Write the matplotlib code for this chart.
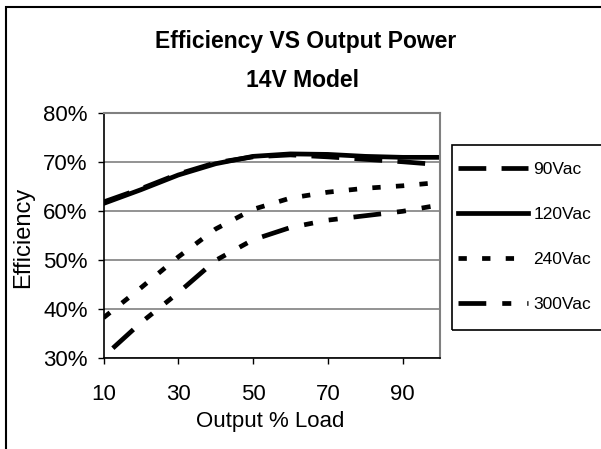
import matplotlib
matplotlib.use("Agg")
import matplotlib.pyplot as plt
from matplotlib.patches import Rectangle
from matplotlib.ticker import FuncFormatter

plt.rcParams['font.family'] = ['Liberation Sans', 'DejaVu Sans']
plt.rcParams['lines.scale_dashes'] = False

# Data (efficiency % vs output % load)
load_90 = [10, 20, 30, 40, 50, 60, 70, 80, 90, 100]
eff_90 = [61.8, 64.5, 67.5, 69.8, 71.0, 71.4, 71.0, 70.5, 70.0, 69.4]

load_120 = [10, 20, 30, 40, 50, 60, 70, 80, 90, 100]
eff_120 = [61.5, 64.3, 67.3, 69.6, 71.1, 71.6, 71.5, 71.1, 70.9, 70.9]

load_240 = [10, 20, 30, 40, 50, 60, 70, 80, 90, 100]
eff_240 = [38.2, 44.3, 50.6, 56.3, 60.3, 62.6, 63.8, 64.6, 65.1, 65.8]

load_300 = [12.5, 20, 30, 40, 50, 60, 70, 80, 90, 100]
eff_300 = [32.0, 37.2, 43.3, 49.9, 54.1, 56.6, 58.1, 59.0, 59.9, 61.2]

series_labels = ['90Vac', '120Vac', '240Vac', '300Vac']
x_ticks = [10, 30, 50, 70, 90]
y_ticks = [30, 40, 50, 60, 70, 80]

W, H = 601, 449
fig = plt.figure(figsize=(W / 100, H / 100), dpi=100)

# outer chart border
fig.patches.append(Rectangle((6 / W, -0.1), 1.2, 1 - 7 / H + 0.1, transform=fig.transFigure,
                             fill=False, edgecolor='black', linewidth=1.5))
# legend box (extends past the right edge as in the reference)
fig.patches.append(Rectangle((452 / W, 1 - 330 / H), 0.5, (330 - 145) / H, transform=fig.transFigure,
                             fill=False, edgecolor='black', linewidth=1.2))

left, right, top, bottom = 103.5, 440, 112.7, 358
ax = fig.add_axes([left / W, 1 - bottom / H, (right - left) / W, (bottom - top) / H])

lw = 3.4
ax.plot(load_90, eff_90, color='black', lw=lw, linestyle=(0, (20, 11)), label=series_labels[0],
        dash_capstyle='butt')
ax.plot(load_120, eff_120, color='black', lw=lw, linestyle='-', label=series_labels[1])
ax.plot(load_240, eff_240, color='black', lw=lw, linestyle=(0, (6, 11)), label=series_labels[2],
        dash_capstyle='butt')
ax.plot(load_300, eff_300, color='black', lw=lw, linestyle=(0, (20, 11.5, 6.5, 11.5, 6.5, 11.5)),
        label=series_labels[3], dash_capstyle='butt')

ax.set_xlim(10, 100)
ax.set_ylim(30, 80)
ax.set_xticks(x_ticks)
ax.set_yticks(y_ticks)
ax.yaxis.set_major_formatter(FuncFormatter(lambda v, p: f"{int(round(v))}%"))

ax.grid(axis='y', color='#808080', linewidth=1.2)
ax.set_axisbelow(True)
for s in ['top', 'right']:
    ax.spines[s].set_color('#808080')
    ax.spines[s].set_linewidth(1.5)
for s in ['left', 'bottom']:
    ax.spines[s].set_color('black')
    ax.spines[s].set_linewidth(1.2)

ax.tick_params(axis='x', direction='out', length=4, width=1, labelsize=16, pad=15)
ax.tick_params(axis='y', direction='out', length=4.5, width=1, labelsize=16, pad=7)

ax.set_xlabel('Output % Load', fontsize=16)
ax.xaxis.set_label_coords(0.496, -0.215)
ax.set_ylabel('Efficiency', fontsize=17)
ax.yaxis.set_label_coords(-0.207, 0.493)

fig.text(306 / W, 1 - 48 / H, 'Efficiency VS Output Power', ha='center', va='baseline',
         fontsize=16.5, fontweight='bold')
fig.text(302 / W, 1 - 87 / H, '14V Model', ha='center', va='baseline',
         fontsize=16.5, fontweight='bold')

leg = fig.legend(loc='upper left', bbox_to_anchor=(452 / W, 1 - 156 / H), borderaxespad=0,
                 fontsize=12.5, handlelength=4.0, handletextpad=0.35,
                 labelspacing=1.72, borderpad=0.35, frameon=False)

fig.savefig('out.png', dpi=100)
